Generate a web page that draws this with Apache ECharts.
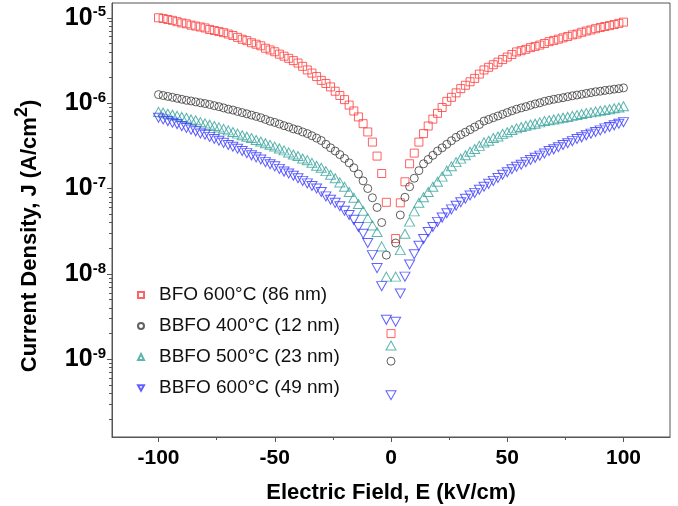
<!DOCTYPE html>
<html>
<head>
<meta charset="utf-8">
<script src="https://cdn.jsdelivr.net/npm/echarts@6/dist/echarts.min.js"></script>
<style>
  html, body { margin: 0; padding: 0; background: #fff; }
  #chart { width: 678px; height: 506px; }
</style>
</head>
<body>
<div id="chart"></div>
<script>
// electric field, kV/cm
var fieldE = [
  -100, -98, -96, -94, -92, -90, -88, -86, -84, -82,
  -80, -78, -76, -74, -72, -70, -68, -66, -64, -62,
  -60, -58, -56, -54, -52, -50, -48, -46, -44, -42,
  -40, -38, -36, -34, -32, -30, -28, -26, -24, -22,
  -20, -18, -16, -14, -12, -10, -8, -6, -4, -2,
  0,
  2, 4, 6, 8, 10, 12, 14, 16, 18, 20,
  22, 24, 26, 28, 30, 32, 34, 36, 38, 40,
  42, 44, 46, 48, 50, 52, 54, 56, 58, 60,
  62, 64, 66, 68, 70, 72, 74, 76, 78, 80,
  82, 84, 86, 88, 90, 92, 94, 96, 98, 100
];

// current density, A/cm2
var jBFO600 = [
  1.0e-5, 9.8e-6, 9.55e-6, 9.33e-6, 9.0e-6, 8.7e-6, 8.5e-6, 8.2e-6, 8.0e-6, 7.8e-6,
  7.6e-6, 7.3e-6, 7.1e-6, 6.9e-6, 6.7e-6, 6.45e-6, 6.2e-6, 5.9e-6, 5.6e-6, 5.4e-6,
  5.1e-6, 4.9e-6, 4.7e-6, 4.4e-6, 4.2e-6, 4.0e-6, 3.75e-6, 3.55e-6, 3.35e-6, 3.15e-6,
  2.95e-6, 2.7e-6, 2.45e-6, 2.25e-6, 2.05e-6, 1.85e-6, 1.7e-6, 1.55e-6, 1.38e-6, 1.23e-6,
  1.1e-6, 9.5e-7, 8.1e-7, 6.9e-7, 5.75e-7, 4.6e-7, 3.5e-7, 2.4e-7, 1.5e-7, 6.9e-8,
  2.0e-9,
  2.6e-8, 6.8e-8, 1.2e-7, 1.95e-7, 2.6e-7, 3.5e-7, 4.4e-7, 5.4e-7, 6.5e-7, 7.6e-7,
  8.9e-7, 1.05e-6, 1.17e-6, 1.32e-6, 1.48e-6, 1.62e-6, 1.78e-6, 1.95e-6, 2.19e-6, 2.45e-6,
  2.63e-6, 2.82e-6, 3.02e-6, 3.24e-6, 3.47e-6, 3.72e-6, 3.98e-6, 4.12e-6, 4.27e-6, 4.47e-6,
  4.62e-6, 4.79e-6, 5.0e-6, 5.25e-6, 5.43e-6, 5.62e-6, 5.82e-6, 6.03e-6, 6.3e-6, 6.45e-6,
  6.76e-6, 7.0e-6, 7.2e-6, 7.45e-6, 7.7e-6, 7.9e-6, 8.1e-6, 8.35e-6, 8.6e-6, 8.9e-6
];
var jBBFO400 = [
  1.26e-6, 1.23e-6, 1.2e-6, 1.17e-6, 1.14e-6, 1.11e-6, 1.08e-6, 1.06e-6, 1.035e-6, 1.01e-6,
  9.9e-7, 9.65e-7, 9.35e-7, 9.1e-7, 8.8e-7, 8.5e-7, 8.3e-7, 8.0e-7, 7.75e-7, 7.5e-7,
  7.25e-7, 7.0e-7, 6.75e-7, 6.45e-7, 6.15e-7, 5.95e-7, 5.7e-7, 5.45e-7, 5.25e-7, 5.0e-7,
  4.85e-7, 4.6e-7, 4.4e-7, 4.15e-7, 3.9e-7, 3.65e-7, 3.3e-7, 3.0e-7, 2.75e-7, 2.5e-7,
  2.25e-7, 2.0e-7, 1.75e-7, 1.48e-7, 1.23e-7, 1.0e-7, 7.8e-8, 6.0e-8, 4.0e-8, 1.66e-8,
  9.5e-10,
  2.3e-8, 4.9e-8, 7.9e-8, 1.05e-7, 1.32e-7, 1.62e-7, 1.95e-7, 2.19e-7, 2.45e-7, 2.75e-7,
  3.0e-7, 3.3e-7, 3.63e-7, 3.98e-7, 4.27e-7, 4.57e-7, 4.9e-7, 5.25e-7, 5.62e-7, 6.17e-7,
  6.45e-7, 6.76e-7, 7.08e-7, 7.41e-7, 7.76e-7, 8.13e-7, 8.5e-7, 8.8e-7, 9.1e-7, 9.45e-7,
  9.8e-7, 1.01e-6, 1.05e-6, 1.08e-6, 1.11e-6, 1.135e-6, 1.16e-6, 1.19e-6, 1.22e-6, 1.245e-6,
  1.27e-6, 1.3e-6, 1.33e-6, 1.36e-6, 1.38e-6, 1.41e-6, 1.43e-6, 1.46e-6, 1.48e-6, 1.51e-6
];
var jBBFO500 = [
  7.9e-7, 7.75e-7, 7.5e-7, 7.3e-7, 7.1e-7, 6.9e-7, 6.75e-7, 6.45e-7, 6.3e-7, 6.0e-7,
  5.8e-7, 5.6e-7, 5.4e-7, 5.2e-7, 5.0e-7, 4.8e-7, 4.6e-7, 4.4e-7, 4.2e-7, 4.05e-7,
  3.9e-7, 3.7e-7, 3.55e-7, 3.4e-7, 3.25e-7, 3.1e-7, 2.95e-7, 2.8e-7, 2.65e-7, 2.5e-7,
  2.4e-7, 2.25e-7, 2.15e-7, 2.0e-7, 1.85e-7, 1.75e-7, 1.6e-7, 1.45e-7, 1.32e-7, 1.18e-7,
  1.05e-7, 9.1e-8, 7.8e-8, 6.6e-8, 5.5e-8, 4.5e-8, 3.7e-8, 3.1e-8, 2.1e-8, 9.3e-9,
  1.45e-9,
  9.3e-9, 1.9e-8, 2.95e-8, 4.1e-8, 5.4e-8, 6.8e-8, 7.9e-8, 9.1e-8, 1.05e-7, 1.2e-7,
  1.38e-7, 1.62e-7, 1.82e-7, 2.04e-7, 2.24e-7, 2.45e-7, 2.7e-7, 2.9e-7, 3.16e-7, 3.47e-7,
  3.63e-7, 3.9e-7, 4.07e-7, 4.37e-7, 4.57e-7, 4.84e-7, 5.07e-7, 5.25e-7, 5.43e-7, 5.62e-7,
  5.75e-7, 5.96e-7, 6.17e-7, 6.3e-7, 6.45e-7, 6.6e-7, 6.76e-7, 6.9e-7, 7.1e-7, 7.25e-7,
  7.45e-7, 7.65e-7, 7.8e-7, 8.0e-7, 8.15e-7, 8.3e-7, 8.5e-7, 8.7e-7, 8.9e-7, 9.2e-7
];
var jBBFO600 = [
  6.76e-7, 6.46e-7, 6.17e-7, 5.89e-7, 5.69e-7, 5.37e-7, 5.13e-7, 4.9e-7, 4.68e-7, 4.42e-7,
  4.27e-7, 4.03e-7, 3.8e-7, 3.63e-7, 3.43e-7, 3.24e-7, 3.09e-7, 2.92e-7, 2.75e-7, 2.6e-7,
  2.45e-7, 2.32e-7, 2.19e-7, 2.04e-7, 1.93e-7, 1.82e-7, 1.7e-7, 1.58e-7, 1.5e-7, 1.41e-7,
  1.32e-7, 1.23e-7, 1.15e-7, 1.07e-7, 1.0e-7, 9.1e-8, 8.1e-8, 7.4e-8, 6.8e-8, 6.2e-8,
  5.5e-8, 4.9e-8, 4.3e-8, 3.55e-8, 2.95e-8, 2.3e-8, 1.66e-8, 1.17e-8, 7.2e-9, 2.9e-9,
  3.8e-10,
  2.75e-9, 5.9e-9, 9.3e-9, 1.29e-8, 1.7e-8, 2.14e-8, 2.57e-8, 3.1e-8, 3.55e-8, 4.07e-8,
  4.57e-8, 5.13e-8, 5.7e-8, 6.3e-8, 6.9e-8, 7.6e-8, 8.3e-8, 8.9e-8, 9.7e-8, 1.05e-7,
  1.135e-7, 1.23e-7, 1.33e-7, 1.45e-7, 1.55e-7, 1.68e-7, 1.8e-7, 1.9e-7, 2.04e-7, 2.16e-7,
  2.29e-7, 2.43e-7, 2.57e-7, 2.75e-7, 2.88e-7, 3.05e-7, 3.24e-7, 3.39e-7, 3.59e-7, 3.8e-7,
  3.98e-7, 4.2e-7, 4.4e-7, 4.6e-7, 4.8e-7, 5.07e-7, 5.25e-7, 5.5e-7, 5.75e-7, 6.0e-7
];

var seriesNames = [
  'BFO 600°C (86 nm)',
  'BBFO 400°C (12 nm)',
  'BBFO 500°C (23 nm)',
  'BBFO 600°C (49 nm)'
];

// axis ticks
var xMajorTicks = [-100, -50, 0, 50, 100];
var xMinorTicks = [-75, -25, 25, 75];
var yMajorTicks = [1e-9, 1e-8, 1e-7, 1e-6, 1e-5];
var yMin = 1.23e-10;
var yMax = 1.49e-5;

var yMinorTicks = [];
[1e-10, 1e-9, 1e-8, 1e-7, 1e-6, 1e-5].forEach(function (d) {
  for (var m = 2; m <= 9; m++) {
    var v = m * d;
    if (v > yMin && v < yMax) yMinorTicks.push(v);
  }
});

function pairs(ys) {
  return fieldE.map(function (e, i) {
    return [e, ys[i]];
  });
}

var FONT = '"Liberation Sans", Arial, sans-serif';

function markerSeries(name, ys, symbol, size, color) {
  return {
    name: name,
    type: 'scatter',
    xAxisIndex: 0,
    yAxisIndex: 0,
    symbol: symbol,
    symbolSize: size,
    itemStyle: { color: 'rgba(255,255,255,0)', borderColor: color, borderWidth: 1 },
    emphasis: { disabled: true },
    data: pairs(ys)
  };
}

var chart = echarts.init(document.getElementById('chart'));
chart.setOption({
  animation: false,
  backgroundColor: '#fff',
  grid: {
    left: 112,
    right: 8,
    top: 3,
    bottom: 69,
    show: true,
    borderColor: '#555',
    borderWidth: 1,
    containLabel: false,
    outerBoundsMode: 'none'
  },
  legend: {
    orient: 'vertical',
    left: 132,
    top: 280,
    itemWidth: 6,
    itemHeight: 6,
    itemGap: 11,
    selectedMode: false,
    data: seriesNames,
    textStyle: {
      fontFamily: FONT,
      fontSize: 19,
      color: '#111',
      lineHeight: 20,
      padding: [0, 0, 0, 10]
    }
  },
  xAxis: [
    {
      type: 'value',
      position: 'bottom',
      min: -120,
      max: 120,
      name: 'Electric Field, E (kV/cm)',
      nameLocation: 'middle',
      nameGap: 45,
      nameTextStyle: { fontFamily: FONT, fontSize: 22, fontWeight: 'bold', color: '#000' },
      axisLine: { show: true, onZero: false, lineStyle: { color: '#555', width: 1 } },
      axisTick: { show: true, inside: false, length: 5, customValues: xMajorTicks, lineStyle: { color: '#555' } },
      axisLabel: {
        customValues: xMajorTicks,
        margin: 11,
        fontFamily: FONT,
        fontSize: 21,
        fontWeight: 'bold',
        color: '#000'
      },
      splitLine: { show: false }
    },
    {
      type: 'value',
      position: 'bottom',
      offset: 0,
      min: -120,
      max: 120,
      axisLine: { show: false, onZero: false },
      axisTick: { show: true, inside: false, length: 3, customValues: xMinorTicks, lineStyle: { color: '#555' } },
      axisLabel: { show: false },
      splitLine: { show: false }
    }
  ],
  yAxis: [
    {
      type: 'log',
      position: 'left',
      min: yMin,
      max: yMax,
      name: '{t|Current Density, J (A/cm}{p|2}{t|)}',
      nameLocation: 'middle',
      nameRotate: 90,
      nameGap: 71,
      nameTextStyle: {
        padding: [0, 32, 0, 0],
        rich: {
          t: { fontFamily: FONT, fontSize: 22, fontWeight: 'bold', color: '#000', lineHeight: 28, verticalAlign: 'bottom' },
          p: { fontFamily: FONT, fontSize: 18, fontWeight: 'bold', color: '#000', lineHeight: 18, verticalAlign: 'top' }
        }
      },
      axisLine: { show: true, onZero: false, lineStyle: { color: '#555', width: 1 } },
      axisTick: { show: true, inside: false, length: 5, customValues: yMajorTicks, lineStyle: { color: '#555' } },
      axisLabel: {
        customValues: yMajorTicks,
        margin: 6,
        formatter: function (v) {
          var p = Math.round(Math.log(v) / Math.LN10);
          return '{b|10}{s|' + p + '}';
        },
        rich: {
          b: { fontFamily: FONT, fontSize: 25, fontWeight: 'bold', color: '#000', lineHeight: 26 },
          s: { fontFamily: FONT, fontSize: 15, fontWeight: 'bold', color: '#000', lineHeight: 16, verticalAlign: 'top' }
        }
      },
      splitLine: { show: false }
    },
    {
      type: 'log',
      position: 'left',
      offset: 0,
      min: yMin,
      max: yMax,
      axisLine: { show: false, onZero: false },
      axisTick: { show: true, inside: false, length: 3, customValues: yMinorTicks, lineStyle: { color: '#555' } },
      axisLabel: { show: false },
      splitLine: { show: false }
    }
  ],
  series: [
    markerSeries(seriesNames[0], jBFO600, 'rect', 8, '#ff3b3b'),
    markerSeries(seriesNames[1], jBBFO400, 'circle', 8, '#383838'),
    markerSeries(seriesNames[2], jBBFO500, 'triangle', [10, 9], '#35a39b'),
    markerSeries(seriesNames[3], jBBFO600, 'path://M0,0L10,0L5,9Z', [10, 9], '#3a3aff')
  ]
});
</script>
</body>
</html>
